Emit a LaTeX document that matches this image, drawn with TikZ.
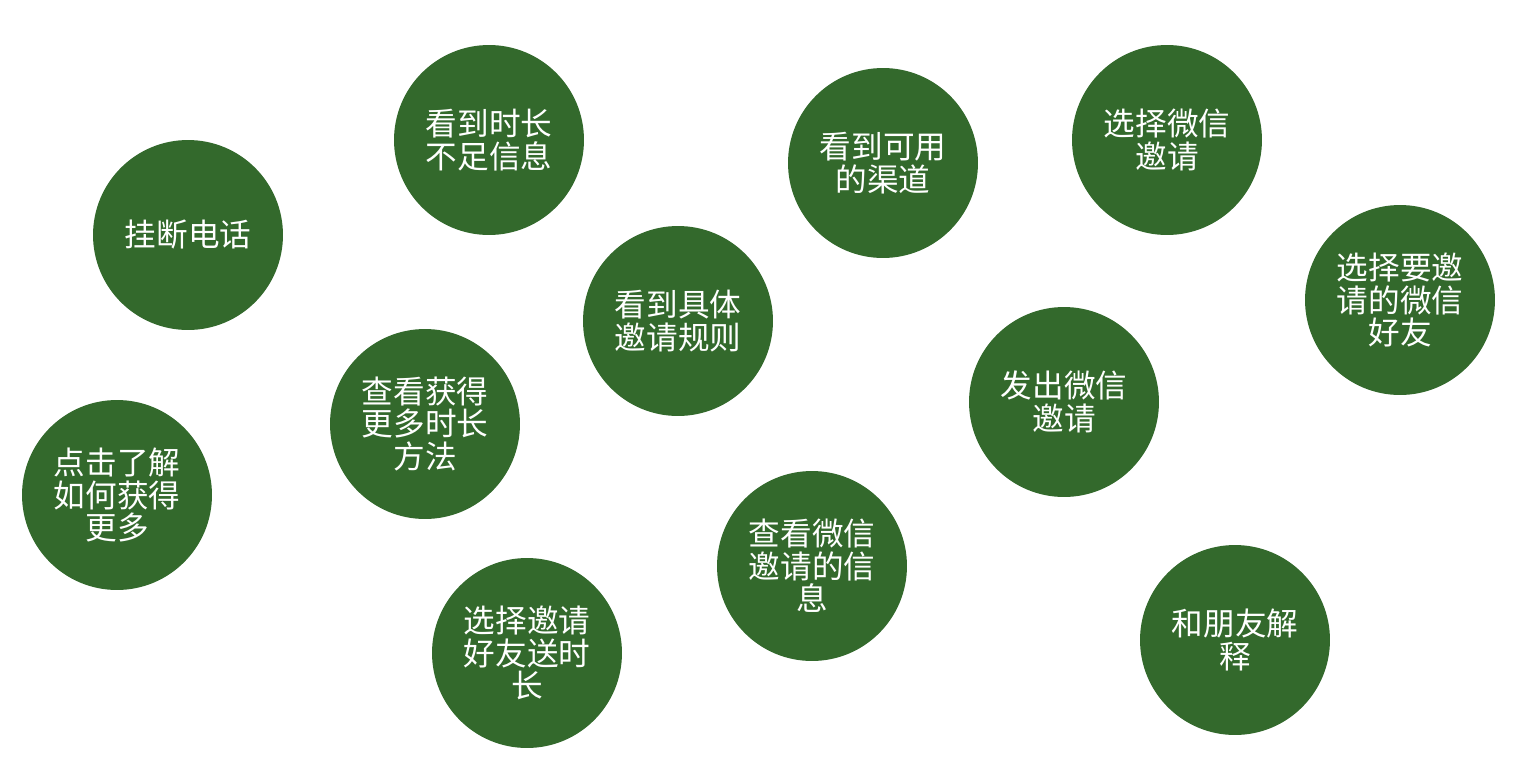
\documentclass[tikz,border=0pt]{standalone}
\usepackage{fontspec}
\newfontfamily\cjk{Noto Sans CJK SC}
\usepackage{tikz}
\usepackage{xcolor}
\definecolor{bubblegreen}{HTML}{33692C}

\begin{document}
\begin{tikzpicture}[
 x=0.02cm,y=-0.02cm,
 bubble/.style={circle,fill=bubblegreen,text=white,minimum size=3.8cm,inner sep=0pt,align=center,font=\cjk\fontsize{18}{18.6}\selectfont}
]
\useasboundingbox (0,0) rectangle (1526,758);
\node[bubble] (hangup) at (188,235) {挂断电话};
\node[bubble] (shortage) at (489,140) {看到时长\\不足信息};
\node[bubble] (channels) at (883,163) {看到可用\\的渠道};
\node[bubble] (wxinvite) at (1167,140) {选择微信\\邀请};
\node[bubble] (friends) at (1400,300) {选择要邀\\请的微信\\好友};
\node[bubble] (rules) at (678,321) {看到具体\\邀请规则};
\node[bubble] (send) at (1064,402) {发出微信\\邀请};
\node[bubble] (methods) at (425,424) {查看获得\\更多时长\\方法};
\node[bubble] (learn) at (117,495) {点击了解\\如何获得\\更多};
\node[bubble] (wxinfo) at (812,566) {查看微信\\邀请的信\\息};
\node[bubble] (gift) at (527,653) {选择邀请\\好友送时\\长};
\node[bubble] (explain) at (1235,640) {和朋友解\\释};
\end{tikzpicture}
\end{document}
